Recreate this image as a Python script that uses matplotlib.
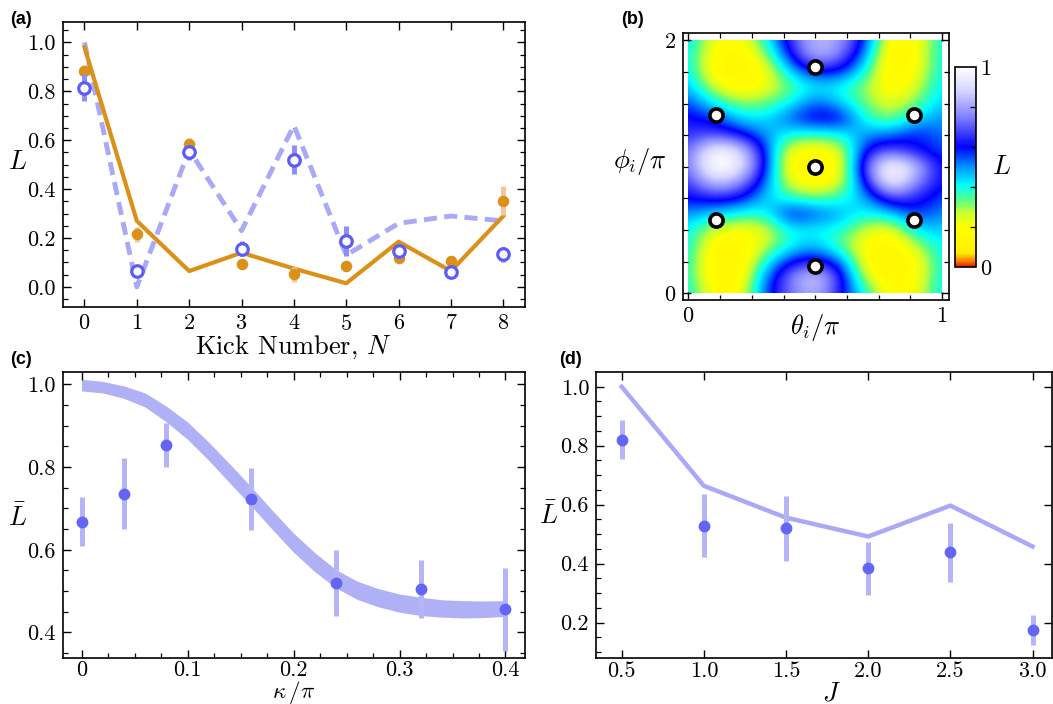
import numpy as np
import matplotlib
matplotlib.use("Agg")
import matplotlib.pyplot as plt
from matplotlib.colors import LinearSegmentedColormap
from matplotlib.ticker import MultipleLocator, FixedLocator, NullLocator
from matplotlib.patches import Rectangle

# ---------------- data ----------------
# (a)
kick_N = [0, 1, 2, 3, 4, 5, 6, 7, 8]
theory_orange = [0.98, 0.27, 0.065, 0.14, 0.075, 0.015, 0.185, 0.065, 0.29]
theory_blue = [1.0, 0.0, 0.56, 0.23, 0.66, 0.13, 0.26, 0.29, 0.27]
data_blue = [0.815, 0.065, 0.55, 0.157, 0.52, 0.187, 0.145, 0.06, 0.133]
err_blue = [0.055, 0.02, 0.03, 0.03, 0.06, 0.062, 0.03, 0.02, 0.03]
data_orange = [0.882, 0.215, 0.585, 0.095, 0.052, 0.086, 0.12, 0.107, 0.353]
err_orange = [0.025, 0.03, 0.025, 0.02, 0.03, 0.02, 0.02, 0.02, 0.06]
a_xticks = [0, 1, 2, 3, 4, 5, 6, 7, 8]
a_yticks = [0.0, 0.2, 0.4, 0.6, 0.8, 1.0]

# (b) L(theta, phi) read on a coarse grid (rows: phi from 0 to 2, cols: theta 0..1)
theta_grid = [0.0, 0.1, 0.2, 0.3, 0.4, 0.5, 0.6, 0.7, 0.8, 0.9, 1.0]
phi_grid = [0.0, 0.125, 0.25, 0.375, 0.5, 0.625, 0.75, 0.875, 1.0,
            1.125, 1.25, 1.375, 1.5, 1.625, 1.75, 1.875, 2.0]
L_grid = [
    [0.42, 0.18, 0.15, 0.55, 0.72, 0.85, 0.62, 0.40, 0.15, 0.20, 0.45],
    [0.40, 0.12, 0.12, 0.50, 0.75, 0.92, 0.66, 0.25, 0.12, 0.18, 0.42],
    [0.40, 0.12, 0.10, 0.38, 0.60, 0.64, 0.55, 0.17, 0.10, 0.18, 0.42],
    [0.42, 0.15, 0.12, 0.25, 0.40, 0.48, 0.33, 0.18, 0.12, 0.28, 0.42],
    [0.42, 0.25, 0.20, 0.22, 0.42, 0.40, 0.40, 0.25, 0.20, 0.45, 0.45],
    [0.50, 0.45, 0.40, 0.38, 0.62, 0.56, 0.48, 0.40, 0.45, 0.58, 0.50],
    [0.60, 0.64, 0.62, 0.45, 0.38, 0.32, 0.38, 0.47, 0.70, 0.64, 0.55],
    [0.65, 0.88, 0.80, 0.55, 0.22, 0.16, 0.22, 0.62, 1.02, 0.76, 0.60],
    [0.72, 1.05, 0.98, 0.62, 0.15, 0.13, 0.17, 0.72, 1.04, 0.86, 0.58],
    [0.70, 1.00, 0.92, 0.60, 0.20, 0.17, 0.22, 0.62, 0.70, 0.60, 0.55],
    [0.65, 0.68, 0.62, 0.50, 0.40, 0.38, 0.40, 0.50, 0.52, 0.60, 0.52],
    [0.62, 0.58, 0.45, 0.42, 0.55, 0.64, 0.64, 0.38, 0.30, 0.45, 0.50],
    [0.56, 0.42, 0.30, 0.32, 0.40, 0.55, 0.45, 0.32, 0.22, 0.32, 0.46],
    [0.48, 0.25, 0.15, 0.20, 0.33, 0.42, 0.40, 0.30, 0.15, 0.25, 0.44],
    [0.44, 0.15, 0.12, 0.18, 0.45, 0.62, 0.60, 0.40, 0.10, 0.20, 0.42],
    [0.42, 0.17, 0.12, 0.28, 0.60, 0.85, 0.76, 0.50, 0.10, 0.18, 0.42],
    [0.45, 0.22, 0.17, 0.38, 0.66, 0.86, 0.80, 0.58, 0.15, 0.18, 0.42],
]
theta_pts = [0.5, 0.11, 0.89, 0.5, 0.11, 0.89, 0.5]
phi_pts = [1.785, 1.41, 1.41, 1.0, 0.58, 0.58, 0.215]

# (c)
kappa = [0.0, 0.04, 0.08, 0.16, 0.24, 0.32, 0.40]
Lbar_c = [0.668, 0.735, 0.853, 0.722, 0.52, 0.506, 0.456]
err_c = [0.06, 0.086, 0.053, 0.075, 0.08, 0.07, 0.10]
kappa_band = [0.0, 0.02, 0.04, 0.06, 0.08, 0.10, 0.12, 0.14, 0.16, 0.18, 0.20,
              0.22, 0.24, 0.26, 0.28, 0.30, 0.32, 0.34, 0.36, 0.38, 0.40]
band_center = [0.998, 0.993, 0.981, 0.962, 0.928, 0.888, 0.838, 0.784, 0.729,
               0.672, 0.617, 0.570, 0.530, 0.502, 0.484, 0.471, 0.463, 0.458,
               0.456, 0.456, 0.458]
band_half = [0.014, 0.014, 0.015, 0.017, 0.019, 0.021, 0.022, 0.023, 0.023,
             0.023, 0.023, 0.023, 0.022, 0.022, 0.022, 0.022, 0.022, 0.021,
             0.021, 0.020, 0.019]
c_xticks = [0.0, 0.1, 0.2, 0.3, 0.4]
c_xticklabels = ["0", "0.1", "0.2", "0.3", "0.4"]
c_yticks = [0.4, 0.6, 0.8, 1.0]

# (d)
J_vals = [0.5, 1.0, 1.5, 2.0, 2.5, 3.0]
Lbar_d = [0.821, 0.529, 0.52, 0.384, 0.438, 0.175]
err_d = [0.066, 0.107, 0.11, 0.09, 0.1, 0.05]
theory_d = [1.0, 0.664, 0.556, 0.492, 0.597, 0.458]
d_xticks = [0.5, 1.0, 1.5, 2.0, 2.5, 3.0]
d_yticks = [0.2, 0.4, 0.6, 0.8, 1.0]

# ---------------- style ----------------
plt.rcParams.update({
    "font.family": "serif",
    "font.serif": ["cmr10"],
    "mathtext.fontset": "cm",
    "axes.formatter.use_mathtext": True,
    "axes.unicode_minus": False,
    "font.size": 16,
})

TICK_FS = 16
LABEL_FS = 19

ORANGE = "#DB9117"
ORANGE_ERR = "#F3C89E"
BLUE_EDGE = "#5C5CF6"
BLUE_ERR_A = "#8E8EF6"
BLUE_DASH = "#A9A9F7"
PT = "#6464F5"
PT_ERR = "#B4B4F8"
BAND = "#B0B0F7"

W, H = 1053, 704
fig = plt.figure(figsize=(W / 100, H / 100), dpi=100)


def box(l, r, t, b):
    return [l / W, 1 - b / H, (r - l) / W, (b - t) / H]


def style(ax):
    ax.tick_params(which="both", direction="in", top=True, right=True)
    ax.tick_params(which="major", length=6, width=1.0, pad=5, labelsize=TICK_FS)
    ax.tick_params(which="minor", length=3.5, width=0.9)
    for s in ax.spines.values():
        s.set_linewidth(1.2)


def panel_label(x, y, s):
    fig.text(x / W, 1 - y / H, s, fontfamily="Liberation Sans",
             fontweight="bold", fontsize=13, ha="left", va="center")


def ylab(ax, s, x, y):
    ax.set_ylabel(s, fontsize=LABEL_FS, rotation=0, va="center", ha="center")
    ax.yaxis.set_label_coords(x, y)


def xlab(ax, s, y, x=0.5, fs=LABEL_FS):
    ax.set_xlabel(s, fontsize=fs, va="top", ha="center")
    ax.xaxis.set_label_coords(x, y)


# ---------------- (a) ----------------
axa = fig.add_axes(box(62.5, 525.3, 22.3, 307))
axa.plot(kick_N, theory_blue, color=BLUE_DASH, lw=3.5, dashes=(2.7, 1.5), zorder=2)
axa.plot(kick_N, theory_orange, color=ORANGE, lw=3.0, zorder=3)
axa.errorbar(kick_N, data_orange, yerr=err_orange, fmt="none", ecolor=ORANGE_ERR,
             elinewidth=3.6, capsize=0, zorder=4)
axa.plot(kick_N, data_orange, "o", color=ORANGE, ms=8.3, mec="none", zorder=5)
axa.errorbar(kick_N, data_blue, yerr=err_blue, fmt="none", ecolor=BLUE_ERR_A,
             elinewidth=3.6, capsize=0, zorder=6)
axa.plot(kick_N, data_blue, "o", mfc="white", mec=BLUE_EDGE, mew=2.3, ms=8.3, zorder=7)
axa.set_xlim(-0.42, 8.42)
axa.set_ylim(-0.082, 1.082)
axa.set_xticks(a_xticks)
axa.set_yticks(a_yticks)
axa.set_yticklabels([f"{v:.1f}" for v in a_yticks])
axa.yaxis.set_minor_locator(MultipleLocator(0.05))
axa.xaxis.set_minor_locator(NullLocator())
style(axa)
xlab(axa, r"Kick Number, $N$", -0.092, 0.498)
ylab(axa, r"$L$", -0.098, 0.509)

# ---------------- (b) ----------------
cmap = LinearSegmentedColormap.from_list("Lmap", [
    (0.00, "#E01E00"),
    (0.03, "#FF8000"),
    (0.07, "#FFF000"),
    (0.20, "#FFFF00"),
    (0.27, "#C8FF30"),
    (0.34, "#50FF90"),
    (0.41, "#00FFFF"),
    (0.50, "#0094FF"),
    (0.60, "#0000FF"),
    (0.75, "#8080FF"),
    (0.88, "#D4D4FF"),
    (1.00, "#FFFFFF"),
])
axb = fig.add_axes(box(682.7, 949.3, 33.3, 300))
dth = theta_grid[1] - theta_grid[0]
dph = phi_grid[1] - phi_grid[0]
im = axb.imshow(np.array(L_grid), origin="lower", cmap=cmap, vmin=0, vmax=1,
                interpolation="bicubic", aspect="auto",
                extent=[theta_grid[0] - dth / 2, theta_grid[-1] + dth / 2,
                        phi_grid[0] - dph / 2, phi_grid[-1] + dph / 2], zorder=1)
clip = Rectangle((theta_grid[0], phi_grid[0]), theta_grid[-1] - theta_grid[0],
                 phi_grid[-1] - phi_grid[0], transform=axb.transData)
im.set_clip_path(clip)
axb.plot(theta_pts, phi_pts, "o", mfc="white", mec="black", mew=2.6, ms=9.5, zorder=3)
axb.set_xlim(-0.022, 1.028)
axb.set_ylim(-0.052, 2.055)
axb.set_xticks([0, 1])
axb.set_yticks([0, 2])
axb.xaxis.set_minor_locator(MultipleLocator(0.125))
axb.yaxis.set_minor_locator(MultipleLocator(0.25))
style(axb)
xlab(axb, r"$\theta_i/\pi$", -0.045, 0.496)
ylab(axb, r"$\phi_i/\pi$", -0.16, 0.52)

cax = fig.add_axes(box(955, 976, 67, 267))
cb = fig.colorbar(im, cax=cax, ticks=[0, 1])
cb.outline.set_linewidth(1.2)
cax.yaxis.set_minor_locator(FixedLocator([0.2, 0.4, 0.6, 0.8]))
cax.tick_params(which="both", direction="in", right=True, left=False)
cax.tick_params(which="major", length=0, pad=3, labelsize=TICK_FS)
cax.tick_params(which="minor", length=4, width=0.9)
cax.set_yticklabels(["0", "1"])
fig.text(1002 / W, 1 - 167 / H, r"$L$", fontsize=LABEL_FS, ha="center", va="center")

# ---------------- (c) ----------------
axc = fig.add_axes(box(62.7, 525.1, 372.3, 657.7))
bc = np.array(band_center)
bh = np.array(band_half)
axc.fill_between(kappa_band, bc - bh, bc + bh, color=BAND, lw=0, zorder=1)
axc.errorbar(kappa, Lbar_c, yerr=err_c, fmt="none", ecolor=PT_ERR,
             elinewidth=3.6, capsize=0, zorder=2)
axc.plot(kappa, Lbar_c, "o", color=PT, ms=8.5, mec="none", zorder=3)
axc.set_xlim(-0.0178, 0.4185)
axc.set_ylim(0.339, 1.029)
axc.set_xticks(c_xticks)
axc.set_xticklabels(c_xticklabels)
axc.set_yticks(c_yticks)
axc.set_yticklabels([f"{v:.1f}" for v in c_yticks])
axc.xaxis.set_minor_locator(MultipleLocator(0.025))
axc.yaxis.set_minor_locator(MultipleLocator(0.05))
style(axc)
axc.tick_params(axis="x", which="major", pad=2)
xlab(axc, r"$\kappa\,/\pi$", -0.073, 0.499, fs=16.5)
ylab(axc, r"$\bar{L}$", -0.097, 0.493)

# ---------------- (d) ----------------
axd = fig.add_axes(box(596, 1051.5, 372.3, 657.7))
axd.plot(J_vals, theory_d, color=BLUE_DASH, lw=3.2, zorder=1)
axd.errorbar(J_vals, Lbar_d, yerr=err_d, fmt="none", ecolor=PT_ERR,
             elinewidth=3.6, capsize=0, zorder=2)
axd.plot(J_vals, Lbar_d, "o", color=PT, ms=8.5, mec="none", zorder=3)
axd.set_xlim(0.344, 3.115)
axd.set_ylim(0.081, 1.049)
axd.set_xticks(d_xticks)
axd.set_xticklabels([f"{v:.1f}" for v in d_xticks])
axd.set_yticks(d_yticks)
axd.set_yticklabels([f"{v:.1f}" for v in d_yticks])
axd.yaxis.set_minor_locator(MultipleLocator(0.05))
axd.xaxis.set_minor_locator(NullLocator())
style(axd)
axd.tick_params(axis="x", which="major", pad=2.5)
axd.tick_params(axis="y", which="minor", right=False)
xlab(axd, r"$J$", -0.085, 0.517)
ylab(axd, r"$\bar{L}$", -0.105, 0.497)

panel_label(10, 20, "(a)")
panel_label(621, 20, "(b)")
panel_label(10, 360, "(c)")
panel_label(559, 360, "(d)")

fig.savefig("out.png", dpi=100)
